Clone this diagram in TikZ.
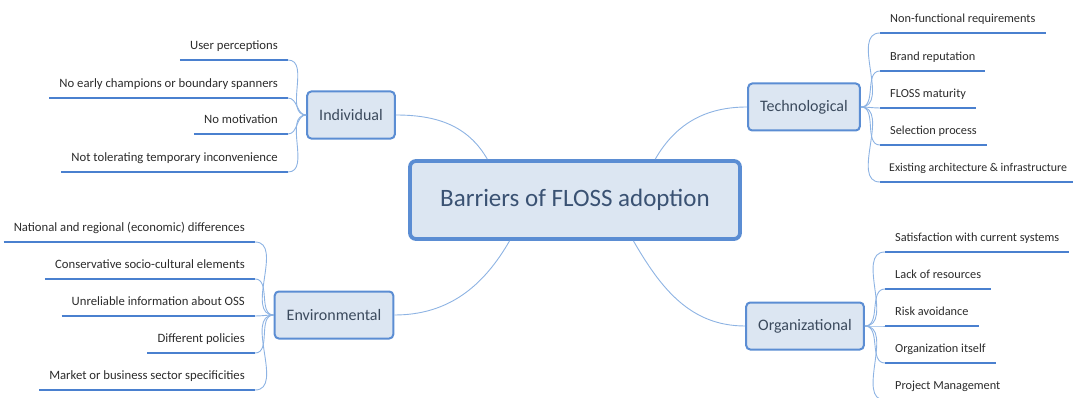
\documentclass[tikz,border=0pt]{standalone}
\usepackage{fontspec}
\setmainfont{Carlito}
\definecolor{boxfill}{HTML}{DCE6F2}
\definecolor{boxline}{HTML}{5B8DD3}
\definecolor{hubtext}{HTML}{3A5273}
\definecolor{topictext}{HTML}{3B4A5D}
\definecolor{leaftext}{HTML}{2B2B2B}
\definecolor{barline}{HTML}{4A80CF}
\definecolor{twigline}{HTML}{8DB3E3}

\begin{document}
\begin{tikzpicture}[x=1pt,y=1pt,
            hub/.style={draw=boxline, line width=3.8pt, fill=boxfill, rounded corners=6pt,
              minimum width=330pt, minimum height=78pt, font=\fontsize{25}{30}\selectfont, text=hubtext},
            topic/.style={draw=boxline, line width=2pt, fill=boxfill, rounded corners=4pt,
              minimum height=47pt, inner xsep=12pt, font=\fontsize{16}{19}\selectfont, text=topictext},
            leafl/.style={anchor=south east, inner xsep=10pt, inner ysep=7pt, text depth=3pt,
              font=\fontsize{12.7}{15}\selectfont, text=leaftext},
            leafr/.style={leafl, anchor=south west, font=\fontsize{12.3}{15}\selectfont},
            bar/.style={draw=barline, line width=2.6pt},
            twig/.style={draw=twigline, line width=0.9pt}]
            \useasboundingbox (0,0) rectangle (1073,397);
            \clip (0,0) rectangle (1073,397);
            % main box and the four groups
            \node[hub] (hub) at (575,197) {Barriers of FLOSS adoption};
            \node[topic] (ind) at (351,282) {Individual};
            \node[topic] (tec) at (804,290) {Technological};
            \node[topic] (env) at (334,82) {Environmental};
            \node[topic] (org) at (805,71) {Organizational};
            % individual
            \node[leafl] (i1) at (288,337) {User perceptions};
            \node[leafl] (i2) at (288,299) {No early champions or boundary spanners};
            \node[leafl] (i3) at (288,263) {No motivation};
            \node[leafl] (i4) at (288,225) {Not tolerating temporary inconvenience};
            % environmental
            \node[leafl] (e1) at (255,155) {National and regional (economic) differences};
            \node[leafl] (e2) at (255,118) {Conservative socio-cultural elements};
            \node[leafl] (e3) at (255,81) {Unreliable information about OSS};
            \node[leafl] (e4) at (255,44) {Different policies};
            \node[leafl] (e5) at (255,7) {Market or business sector specificities};
            % technological
            \node[leafr] (t1) at (880,364) {Non-functional requirements};
            \node[leafr] (t2) at (880,326) {Brand reputation};
            \node[leafr] (t3) at (880,289) {FLOSS maturity};
            \node[leafr] (t4) at (880,252) {Selection process};
            \node[leafr, inner xsep=9pt, font=\fontsize{11.9}{15}\selectfont] (t5) at (880,215) {Existing architecture \& infrastructure};
            % organizational
            \node[leafr] (o1) at (885,145) {Satisfaction with current systems};
            \node[leafr] (o2) at (885,108) {Lack of resources};
            \node[leafr] (o3) at (885,71) {Risk avoidance};
            \node[leafr] (o4) at (885,34) {Organization itself};
            \node[leafr] (o5) at (885,-3) {Project Management};
            % underlines
            \foreach \n in {i1,i2,i3,i4,e1,e2,e3,e4,e5,t1,t2,t3,t4,t5,o1,o2,o3,o4,o5}
              \draw[bar] (\n.south west) -- (\n.south east);
            % branches
            \draw[twig] (ind.east) to[out=0,in=120] (hub.155);
            \draw[twig] (tec.west) to[out=180,in=60] (hub.27);
            \draw[twig] (env.east) to[out=0,in=240] (hub.212);
            \draw[twig] (org.west) to[out=180,in=300] (hub.325);
            \foreach \n in {i1,i2,i3,i4}
              \draw[twig] (ind.west) to[out=180,in=0] (\n.south east);
            \foreach \n in {e1,e2,e3,e4,e5}
              \draw[twig] (env.west) to[out=180,in=0] (\n.south east);
            \foreach \n in {t1,t2,t3,t4,t5}
              \draw[twig] (tec.east) to[out=0,in=180] (\n.south west);
            \foreach \n in {o1,o2,o3,o4,o5}
              \draw[twig] (org.east) to[out=0,in=180] (\n.south west);
        \end{tikzpicture}
\end{document}
